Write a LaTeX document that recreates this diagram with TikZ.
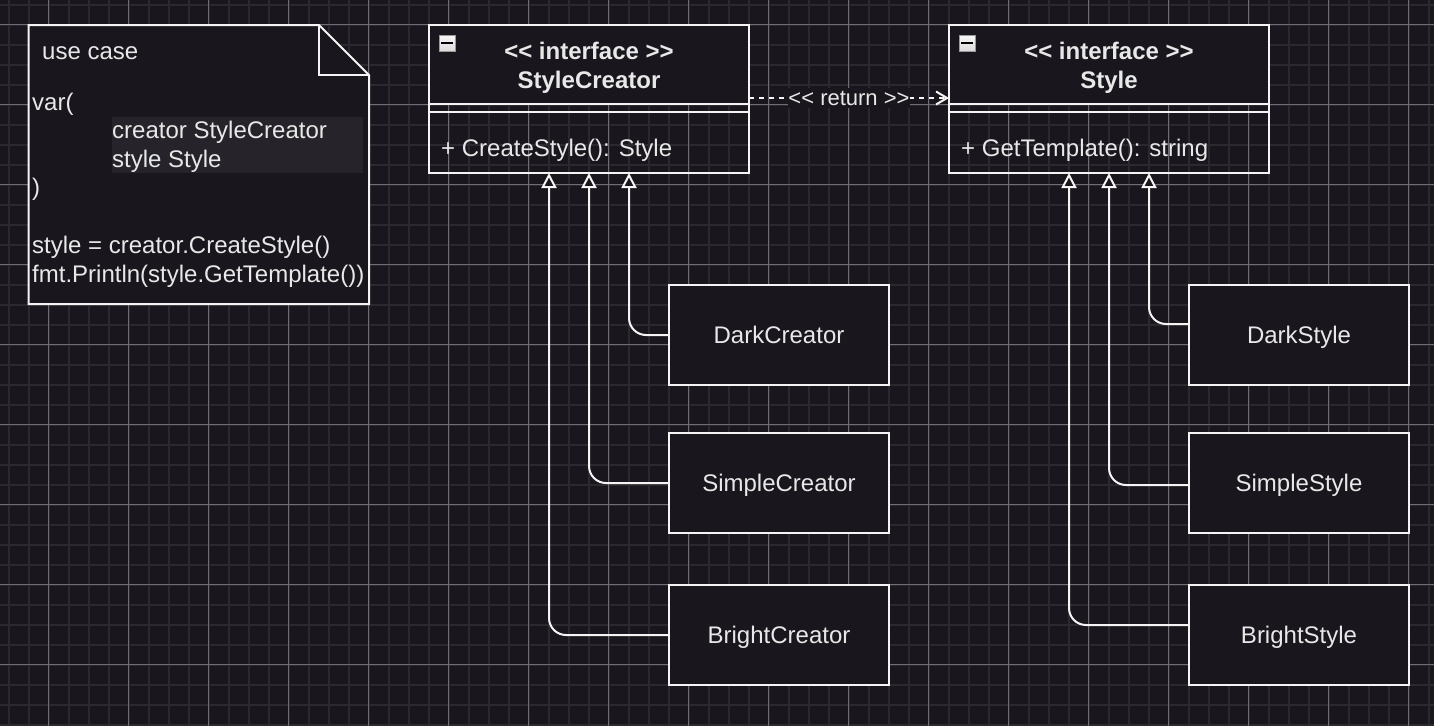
\documentclass[tikz,border=0pt]{standalone}
\usepackage{fontspec}
\setmainfont{Liberation Sans}
\usetikzlibrary{positioning,arrows.meta}

\definecolor{canvas}{HTML}{19171D}
\definecolor{gridminor}{HTML}{2B292F}
\definecolor{gridmajor}{HTML}{6E6C74}
\definecolor{hilite}{HTML}{26242A}
\definecolor{edge}{HTML}{F4F4F4}
\definecolor{ink}{HTML}{E8E8E8}

\begin{document}
\begin{tikzpicture}
	[x=1pt, y=-1pt,
	box/.style={rectangle, draw=edge, line width=2pt, inner sep=0pt, outer sep=0pt},
	header/.style={box, fill=canvas, minimum width=320pt, minimum height=79pt},
	band/.style={box, minimum width=320pt, minimum height=8pt},
	ops/.style={box, minimum width=320pt, minimum height=61pt},
	impl/.style={box, fill=canvas, minimum width=220pt, minimum height=100pt, text height=17.2pt, text depth=0pt, text=ink, font=\fontsize{24}{28}\selectfont},
	code/.style={anchor=base west, inner sep=0pt, text=ink, font=\fontsize{24}{28}\selectfont},
	title/.style={anchor=base, inner sep=0pt, text=ink, font=\bfseries\fontsize{24}{28}\selectfont},
	icon/.style={rectangle, draw=gray!80, line width=1pt, minimum size=16pt, inner sep=0pt, top color=white!94!gray, bottom color=white!72!gray,
		path picture={\draw[line width=2.5pt, black] ([xshift=-6pt]path picture bounding box.center) -- ([xshift=6pt]path picture bounding box.center);}},
	inherit/.style={draw=edge, line width=2pt, rounded corners=17pt, -{Triangle[length=15pt, width=15pt, fill=canvas]}},
	depend/.style={draw=edge, line width=2pt, dash pattern=on 5pt off 5pt, -{Straight Barb[length=11pt, width=13pt]}}]

	% canvas and grid
	\useasboundingbox (0,0) rectangle (1434,726);
	\fill[canvas] (0,0) rectangle (1434,726);
	\foreach \gx in {8.5,28.5,...,1430} \draw[gridminor, line width=2pt] (\gx,0) -- (\gx,726);
	\foreach \gy in {4.5,24.5,...,726} \draw[gridminor, line width=2pt] (0,\gy) -- (1434,\gy);
	\foreach \gx in {48.5,128.5,...,1430} \draw[gridmajor, line width=1pt] (\gx,0) -- (\gx,726);
	\foreach \gy in {24.5,104.5,...,726} \draw[gridmajor, line width=1pt] (0,\gy) -- (1434,\gy);

	% use case note
	\node (note) at (198.75,164.5) [rectangle, minimum width=340.5pt, minimum height=279pt, inner sep=0pt, outer sep=0pt] {};
	\filldraw[fill=canvas, draw=edge, line width=2pt, line join=miter]
		(note.north west) -- ([xshift=-50pt]note.north east) -- ([yshift=-50pt]note.north east)
		-- (note.south east) -- (note.south west) -- cycle;
	\draw[edge, line width=2pt] ([xshift=-50pt]note.north east) -- ([xshift=-50pt, yshift=-50pt]note.north east) -- ([yshift=-50pt]note.north east);
	\fill[hilite] (112,117) rectangle (363,173);
	\node (noteTitle) at (42,59.3) [code] {use case};
	\node (varOpen) at (32,110) [code] {var(};
	\node (fieldCreator) at (112,138.5) [code] {creator StyleCreator};
	\node (fieldStyle) at (112,167) [code] {style Style};
	\node (varClose) at (32,195.5) [code] {)};
	\node (callCreate) at (32,253) [code] {style = creator.CreateStyle()};
	\node (callPrint) at (32,282) [code] {fmt.Println(style.GetTemplate())};

	% interface StyleCreator
	\node (creator) at (589,64.5) [header] {};
	\node (creatorBand) [band, below=0pt of creator] {};
	\node (creatorOps) [ops, below=0pt of creatorBand] {};
	\node (creatorIcon) at (447,43) [icon] {};
	\node (creatorStereo) at (589,59) [title] {<{}< interface >{}>};
	\node (creatorName) at (589,88) [title] {StyleCreator};
	\node (creatorOp) at (441,156) [code] {+ CreateStyle(): Style};

	% interface Style
	\node (style) at (1109,64.5) [header] {};
	\node (styleBand) [band, below=0pt of style] {};
	\node (styleOps) [ops, below=0pt of styleBand] {};
	\node (styleIcon) at (967,43) [icon] {};
	\node (styleStereo) at (1109,59) [title] {<{}< interface >{}>};
	\node (styleName) at (1109,88) [title] {Style};
	\node (styleOp) at (961,156) [code] {+ GetTemplate(): string};

	% creators
	\node (darkCreator) at (779,335) [impl] {DarkCreator};
	\node (simpleCreator) at (779,483) [impl] {SimpleCreator};
	\node (brightCreator) at (779,635) [impl] {BrightCreator};

	% styles
	\node (darkStyle) at (1299,335) [impl] {DarkStyle};
	\node (simpleStyle) at (1299,483) [impl] {SimpleStyle};
	\node (brightStyle) at (1299,635) [impl] {BrightStyle};

	\draw[depend] ([yshift=-33.5pt]creator.east) -- ([yshift=-33.5pt]style.west)
		node (returnLabel) [midway, fill=canvas, inner xsep=0pt, inner ysep=3pt, text=ink, font=\fontsize{22}{26}\selectfont] {<{}< return >{}>};

	\draw[inherit] (darkCreator.west) -| ([xshift=200pt]creatorOps.south west);
	\draw[inherit] (simpleCreator.west) -| ([xshift=160pt]creatorOps.south west);
	\draw[inherit] (brightCreator.west) -| ([xshift=120pt]creatorOps.south west);

	\draw[inherit] ([yshift=11pt]darkStyle.west) -| ([xshift=200pt]styleOps.south west);
	\draw[inherit] ([yshift=-2pt]simpleStyle.west) -| ([xshift=160pt]styleOps.south west);
	\draw[inherit] ([yshift=10pt]brightStyle.west) -| ([xshift=120pt]styleOps.south west);

\end{tikzpicture}
\end{document}
